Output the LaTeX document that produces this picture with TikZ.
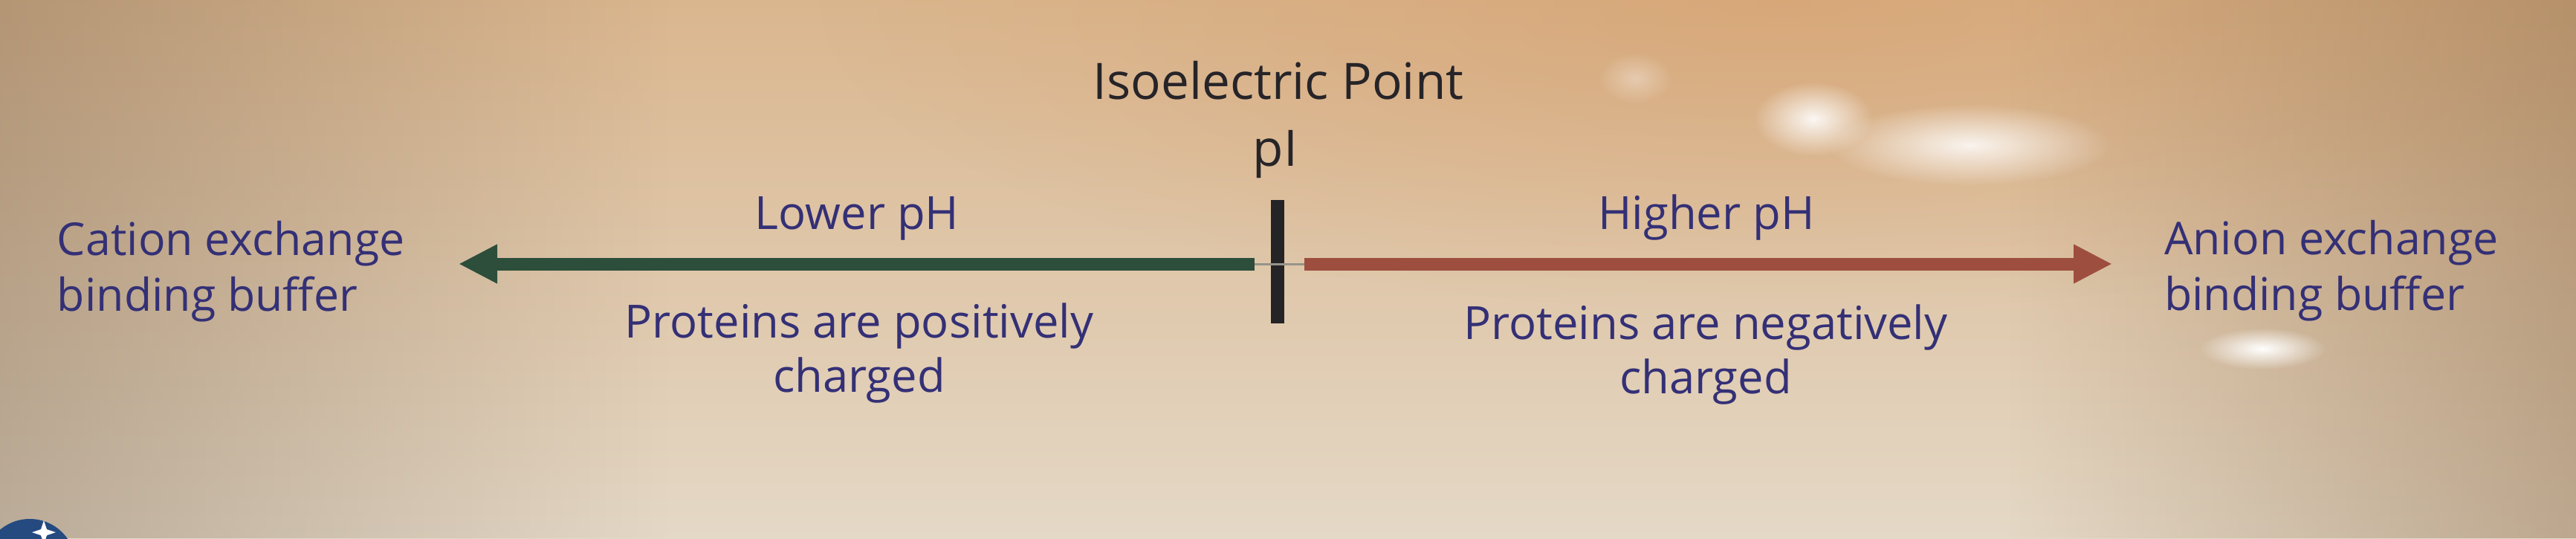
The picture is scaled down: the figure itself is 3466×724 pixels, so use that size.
\documentclass[tikz,border=0pt]{standalone}
\usepackage{fontspec}
\setmainfont{Open Sans}
\usetikzlibrary{arrows.meta,fadings}
\tikzfading[name=fadeR, left color=transparent!0, right color=transparent!100]
\tikzfading[name=fadeL, left color=transparent!100, right color=transparent!0]
\tikzfading[name=softglow, inner color=transparent!0, outer color=transparent!100]
\definecolor{bgtop}{RGB}{218,182,142}
\definecolor{bgbot}{RGB}{228,216,198}
\definecolor{bgleft}{RGB}{110,90,70}
\definecolor{bgright}{RGB}{130,95,60}
\definecolor{bgorange}{RGB}{212,150,95}
\definecolor{txtblue}{RGB}{52,48,118}
\definecolor{txtdark}{RGB}{38,36,40}
\definecolor{greenarrow}{RGB}{44,78,58}
\definecolor{redarrow}{RGB}{158,78,62}
\definecolor{thingray}{RGB}{150,148,138}
\definecolor{barcol}{RGB}{36,36,38}
\definecolor{badge}{RGB}{36,74,128}
\tikzset{
  lbl/.style={inner sep=0pt, outer sep=0pt, text=txtblue, font=\fontsize{17.5}{20.6}\selectfont, align=center, anchor=base},
  sidelbl/.style={lbl, align=left, font=\fontsize{17.3}{21.3}\selectfont},
  title/.style={inner sep=0pt, outer sep=0pt, text=txtdark, font=\fontsize{19.2}{22}\selectfont, anchor=base},
  arrowline/.style={line width=0.17cm, -{Triangle[length=0.52cm,width=0.49cm]}},
  glare/.style={white, path fading=softglow}
}
\begin{document}
\begin{tikzpicture}[x=0.01cm,y=-0.01cm]
\useasboundingbox (0,0) rectangle (3466,724);
% background (photo of a screen)
\fill[top color=bgtop, bottom color=bgbot] (0,0) rectangle (3466,724);
\fill[bgorange, fill opacity=0.45, path fading=softglow] (2400,0) ellipse [x radius=1300, y radius=420];
\fill[bgleft, fill opacity=0.35, path fading=fadeR] (0,0) rectangle (900,724);
\fill[bgright, fill opacity=0.4, path fading=fadeL] (2700,0) rectangle (3466,724);
% glare
\fill[glare, opacity=0.9] (2440,160) ellipse [x radius=80, y radius=50];
\fill[glare, opacity=0.85] (2650,195) ellipse [x radius=190, y radius=55];
\fill[glare, opacity=0.35] (2200,105) ellipse [x radius=50, y radius=35];
\fill[glare, opacity=1] (3044,469) ellipse [x radius=85, y radius=28];
% badge bottom-left
\fill[badge] (40,760) circle [radius=62];
\fill[white] (59,700) -- (63,712) -- (75,716) -- (63,720) -- (59,732) -- (55,720) -- (43,716) -- (55,712) -- cycle;

% texts
\node[title] (iso) at (1720,133) {Isoelectric Point};
\node[title] (pi) at (1716,223) {pI};
\node[lbl] (lower) at (1153,308) {Lower pH};
\node[lbl] (higher) at (2296,308) {Higher pH};
\node[lbl] (pos) at (1156,527) {Proteins are positively\\charged};
\node[lbl] (neg) at (2295,529) {Proteins are negatively\\charged};
\node[sidelbl, anchor=base west] (cation) at (77,418) {Cation exchange\\binding buffer};
\node[sidelbl, anchor=base west] (anion) at (2912,417) {Anion exchange\\binding buffer};

% axis
\node[fill=barcol, inner sep=0pt, minimum width=0.18cm, minimum height=1.65cm] (tick) at (1719,352) {};
\coordinate (gstart) at (1688,355);
\coordinate (rstart) at (1755,355);
\coordinate (ltip) at (617,355);
\coordinate (rtip) at (2842,355);
\draw[thingray, line width=0.03cm] (gstart) -- (rstart);
\draw[arrowline, greenarrow] (gstart) -- (ltip);
\draw[arrowline, redarrow] (rstart) -- (rtip);
\end{tikzpicture}
\end{document}
